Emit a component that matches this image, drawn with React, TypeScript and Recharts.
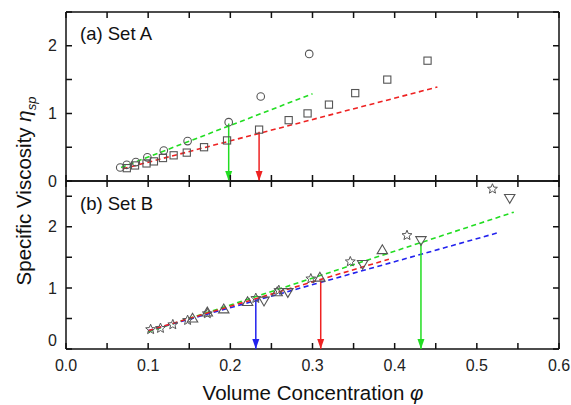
import React from "react";
import { ComposedChart, Scatter, XAxis, YAxis } from "recharts";

// ---- Set A (top panel) ----
const setACirclePhi = [0.066, 0.074, 0.085, 0.099, 0.119, 0.148, 0.198, 0.237, 0.296];
const setACircleEta = [0.2, 0.24, 0.28, 0.35, 0.45, 0.59, 0.87, 1.25, 1.88];

const setASquarePhi = [0.074, 0.084, 0.098, 0.107, 0.118, 0.131, 0.147, 0.168, 0.196, 0.235, 0.271, 0.294, 0.32, 0.352, 0.391, 0.44];
const setASquareEta = [0.19, 0.23, 0.26, 0.29, 0.34, 0.38, 0.42, 0.5, 0.6, 0.76, 0.9, 1.0, 1.13, 1.3, 1.5, 1.78];

const setAGreenFitPhi = [0.067, 0.3];
const setAGreenFitEta = [0.2, 1.29];
const setARedFitPhi = [0.069, 0.452];
const setARedFitEta = [0.18, 1.39];

const setAArrowPhi = [0.198, 0.235];
const setAArrowTop = [0.85, 0.73];

// ---- Set B (bottom panel) ----
const setBStarPhi = [0.103, 0.115, 0.13, 0.148, 0.172, 0.231, 0.259, 0.298, 0.346, 0.415, 0.519];
const setBStarEta = [0.32, 0.34, 0.4, 0.47, 0.58, 0.83, 0.96, 1.15, 1.43, 1.86, 2.62];

const setBUpPhi = [0.154, 0.172, 0.192, 0.221, 0.257, 0.309, 0.385];
const setBUpEta = [0.5, 0.6, 0.65, 0.77, 0.93, 1.17, 1.62];

const setBDownPhi = [0.241, 0.27, 0.361, 0.432, 0.54];
const setBDownEta = [0.79, 0.93, 1.39, 1.78, 2.47];

const setBGreenFitPhi = [0.1, 0.545];
const setBGreenFitEta = [0.28, 2.24];
const setBRedFitPhi = [0.1, 0.393];
const setBRedFitEta = [0.3, 1.47];
const setBBlueFitPhi = [0.1, 0.525];
const setBBlueFitEta = [0.3, 1.9];

const setBArrowPhi = [0.231, 0.31, 0.432];
const setBArrowTop = [0.81, 1.12, 1.74];

// ---- axes ----
const xTicks = [0, 0.05, 0.1, 0.15, 0.2, 0.25, 0.3, 0.35, 0.4, 0.45, 0.5, 0.55, 0.6];
const yTicks = [0, 0.5, 1, 1.5, 2, 2.5];

const GREEN = "#22dd22";
const RED = "#ee2222";
const BLUE = "#2222ee";
const MARK = "#555";
const AXIS = "#111";
const FONT = "Arial, 'Liberation Sans', sans-serif";

// panel boxes (must agree with the chart margins below)
const PLOT_L = 66;
const PLOT_R = 559;
const PANELS = [
  { top: 12, bottom: 181, yMax: 2.5 },
  { top: 181, bottom: 349, yMax: 2.75 },
];
const X_MARGIN = 11;
const Y_MARGIN = 9;

const pts = (xs: number[], ys: number[]) => xs.map((x, i) => ({ x, y: ys[i] }));
const arrow = (phi: number, top: number) => [
  { x: phi, y: top },
  { x: phi, y: 0 },
];

const CircleMark = ({ cx, cy }: any) => (
  <circle cx={cx} cy={cy} r={3.8} fill="none" stroke={MARK} strokeWidth={1.1} />
);
const SquareMark = ({ cx, cy }: any) => (
  <rect x={cx - 3.6} y={cy - 3.6} width={7.2} height={7.2} fill="none" stroke={MARK} strokeWidth={1.1} />
);
const UpMark = ({ cx, cy }: any) => (
  <polygon
    points={`${cx},${cy - 5.2} ${cx - 5.2},${cy + 3.6} ${cx + 5.2},${cy + 3.6}`}
    fill="none"
    stroke={MARK}
    strokeWidth={1.1}
  />
);
const DownMark = ({ cx, cy }: any) => (
  <polygon
    points={`${cx},${cy + 5.2} ${cx - 5.2},${cy - 3.6} ${cx + 5.2},${cy - 3.6}`}
    fill="none"
    stroke={MARK}
    strokeWidth={1.1}
  />
);
const StarMark = ({ cx, cy }: any) => {
  const p: string[] = [];
  for (let i = 0; i < 10; i++) {
    const r = i % 2 === 0 ? 5.2 : 2.3;
    const a = -Math.PI / 2 + (i * Math.PI) / 5;
    p.push(`${cx + r * Math.cos(a)},${cy + r * Math.sin(a)}`);
  }
  return <polygon points={p.join(" ")} fill="none" stroke={MARK} strokeWidth={1} />;
};
const NoMark = () => <g />;

const arrowHead = (color: string) => (props: any) => {
  const { cx, cy, payload } = props;
  if (payload.y !== 0) return <g />;
  return <polygon points={`${cx},${cy} ${cx - 3.5},${cy - 10} ${cx + 3.5},${cy - 10}`} fill={color} />;
};

const xTick = (labels: boolean) => (props: any) => {
  const { x, y, payload } = props;
  const v = payload.value;
  if (!labels || Math.round(v * 100) % 10 !== 0) return <g />;
  return (
    <text x={x} y={y} dy="0.71em" textAnchor="middle" fontSize={16} fill="#222" fontFamily={FONT}>
      {v.toFixed(1)}
    </text>
  );
};

const yTick = (shiftZero: number) => (props: any) => {
  const { x, y, payload } = props;
  const v = payload.value;
  if (!Number.isInteger(v)) return <g />;
  return (
    <text x={x} y={v === 0 ? y + shiftZero : y} dy="0.35em" textAnchor="end" fontSize={16} fill="#222" fontFamily={FONT}>
      {v}
    </text>
  );
};

const fitLine = (color: string) => ({ stroke: color, strokeWidth: 1.6, strokeDasharray: "5 3.5" });

const axisLine = { stroke: AXIS, strokeWidth: 1.5 };

function Frame({ yMax, shiftZero, xLabels }: { yMax: number; shiftZero: number; xLabels: boolean }) {
  const x = { type: "number" as const, domain: [0, 0.6], ticks: xTicks, interval: 0 as const };
  const y = { type: "number" as const, domain: [0, yMax], ticks: yTicks, interval: 0 as const };
  return [
    <XAxis
      key="xb"
      xAxisId="b"
      dataKey="x"
      {...x}
      orientation="bottom"
      height={xLabels ? 56 : 19}
      tickSize={0}
      tickMargin={X_MARGIN}
      axisLine={axisLine}
      tick={xTick(xLabels)}
    />,
    <XAxis key="xt" xAxisId="t" {...x} mirror orientation="top" tick={false} tickLine={false} height={1} axisLine={axisLine} />,
    <YAxis
      key="yl"
      yAxisId="l"
      dataKey="y"
      {...y}
      orientation="left"
      width={66}
      tickSize={0}
      tickMargin={Y_MARGIN}
      axisLine={axisLine}
      tick={yTick(shiftZero)}
    />,
    <YAxis key="yr" yAxisId="r" {...y} mirror orientation="right" tick={false} tickLine={false} width={1} axisLine={axisLine} />,
  ];
}

// inward tick marks on all four sides of each panel
function TickMarks() {
  const sx = (v: number) => PLOT_L + (v / 0.6) * (PLOT_R - PLOT_L);
  let d = "";
  PANELS.forEach(({ top, bottom, yMax }) => {
    xTicks.forEach((t) => {
      const px = sx(t);
      d += `M${px},${bottom}V${bottom - 6}M${px},${top}V${top + 6}`;
    });
    yTicks.forEach((t) => {
      const py = bottom - (t / yMax) * (bottom - top);
      d += `M${PLOT_L},${py}H${PLOT_L + 6}M${PLOT_R},${py}H${PLOT_R - 6}`;
    });
  });
  return <path d={d} stroke={AXIS} strokeWidth={1.5} fill="none" />;
}

const S = { xAxisId: "b", yAxisId: "l", isAnimationActive: false } as const;

export default function App() {
  return (
    <div style={{ position: "absolute", left: 0, top: 0, width: 571, height: 405, background: "#fff", fontFamily: FONT }}>
      <div style={{ position: "absolute", left: 0, top: 0 }}>
        <ComposedChart width={571} height={200} margin={{ top: 12, right: 12, bottom: 0, left: 0 }}>
          {Frame({ yMax: 2.5, shiftZero: 0, xLabels: false })}
          <Scatter {...S} data={pts(setAGreenFitPhi, setAGreenFitEta)} line={fitLine(GREEN)} shape={NoMark} />
          <Scatter {...S} data={pts(setARedFitPhi, setARedFitEta)} line={fitLine(RED)} shape={NoMark} />
          <Scatter {...S} data={arrow(setAArrowPhi[0], setAArrowTop[0])} line={{ stroke: GREEN, strokeWidth: 1.5 }} shape={arrowHead(GREEN)} />
          <Scatter {...S} data={arrow(setAArrowPhi[1], setAArrowTop[1])} line={{ stroke: RED, strokeWidth: 1.5 }} shape={arrowHead(RED)} />
          <Scatter {...S} data={pts(setACirclePhi, setACircleEta)} shape={CircleMark} />
          <Scatter {...S} data={pts(setASquarePhi, setASquareEta)} shape={SquareMark} />
        </ComposedChart>
      </div>
      <div style={{ position: "absolute", left: 0, top: 0 }}>
        <ComposedChart width={571} height={405} margin={{ top: 181, right: 12, bottom: 0, left: 0 }}>
          {Frame({ yMax: 2.75, shiftZero: -9, xLabels: true })}
          <Scatter {...S} data={pts(setBGreenFitPhi, setBGreenFitEta)} line={fitLine(GREEN)} shape={NoMark} />
          <Scatter {...S} data={pts(setBBlueFitPhi, setBBlueFitEta)} line={fitLine(BLUE)} shape={NoMark} />
          <Scatter {...S} data={pts(setBRedFitPhi, setBRedFitEta)} line={fitLine(RED)} shape={NoMark} />
          <Scatter {...S} data={arrow(setBArrowPhi[0], setBArrowTop[0])} line={{ stroke: BLUE, strokeWidth: 1.5 }} shape={arrowHead(BLUE)} />
          <Scatter {...S} data={arrow(setBArrowPhi[1], setBArrowTop[1])} line={{ stroke: RED, strokeWidth: 1.5 }} shape={arrowHead(RED)} />
          <Scatter {...S} data={arrow(setBArrowPhi[2], setBArrowTop[2])} line={{ stroke: GREEN, strokeWidth: 1.5 }} shape={arrowHead(GREEN)} />
          <Scatter {...S} data={pts(setBStarPhi, setBStarEta)} shape={StarMark} />
          <Scatter {...S} data={pts(setBUpPhi, setBUpEta)} shape={UpMark} />
          <Scatter {...S} data={pts(setBDownPhi, setBDownEta)} shape={DownMark} />
        </ComposedChart>
      </div>
      <svg width={571} height={405} style={{ position: "absolute", left: 0, top: 0, pointerEvents: "none" }} fontFamily={FONT}>
        <TickMarks />
        <text x={80} y={40} fontSize={18.5} fill="#111">(a) Set A</text>
        <text x={80} y={210} fontSize={18.5} fill="#111">(b) Set B</text>
        <text x={313} y={400} fontSize={20.5} fill="#111" textAnchor="middle">
          Volume Concentration <tspan fontStyle="italic">φ</tspan>
        </text>
        <text transform="translate(31,191) rotate(-90)" fontSize={20.5} fill="#111" textAnchor="middle">
          Specific Viscosity <tspan fontStyle="italic">η</tspan>
          <tspan fontStyle="italic" fontSize={13} dy={5}>sp</tspan>
        </text>
      </svg>
    </div>
  );
}
